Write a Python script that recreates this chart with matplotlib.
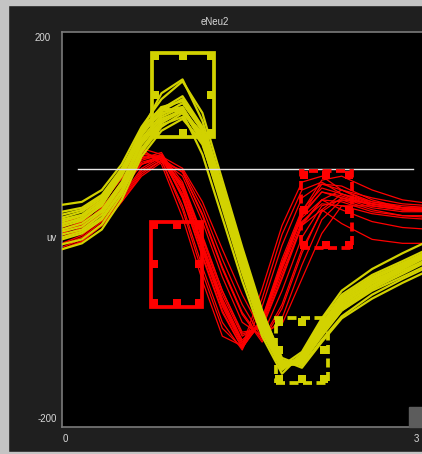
import numpy as np
import matplotlib
matplotlib.use('Agg')
import matplotlib.pyplot as plt
from matplotlib.patches import Rectangle
from matplotlib.transforms import ScaledTranslation

# sample times (ms) shared by all waveforms
t_ms = [0, 0.17, 0.34, 0.51, 0.68, 0.85, 1.03, 1.2, 1.37, 1.54, 1.71, 1.88,
        2.05, 2.22, 2.39, 2.65, 2.91, 3.16]

# yellow unit waveforms (uV)
yellow_waves = [
    [10, 15, 30, 60, 100, 124, 130, 100, 40, -25, -88, -135, -135, -108, -82, -60, -45, -30],
    [-8, -2, 12, 40, 82, 108, 120, 90, 28, -38, -98, -140, -128, -95, -70, -50, -35, -22],
    [18, 22, 35, 62, 98, 118, 122, 88, 22, -44, -104, -142, -126, -92, -66, -46, -32, -18],
    [-15, -10, 5, 35, 78, 104, 118, 98, 42, -22, -84, -130, -138, -112, -88, -66, -50, -36],
    [5, 12, 28, 56, 95, 122, 135, 104, 44, -24, -86, -134, -134, -104, -78, -57, -40, -24],
    [-2, 3, 18, 45, 88, 114, 124, 92, 30, -36, -96, -140, -130, -98, -72, -52, -38, -24],
    [12, 18, 32, 58, 96, 120, 132, 102, 40, -28, -90, -136, -136, -106, -80, -60, -44, -28],
    [-10, -4, 10, 38, 80, 106, 114, 86, 26, -40, -100, -142, -128, -96, -68, -48, -34, -20],
    [25, 28, 40, 66, 104, 132, 150, 118, 50, -18, -82, -132, -140, -114, -90, -70, -54, -40],
    [0, 6, 20, 48, 90, 112, 120, 94, 34, -32, -94, -138, -132, -100, -74, -54, -38, -22],
    [-20, -14, 0, 30, 74, 100, 112, 88, 30, -34, -96, -138, -124, -90, -62, -40, -24, -10],
    [8, 14, 26, 54, 92, 116, 128, 100, 38, -30, -92, -138, -136, -106, -82, -62, -48, -34],
    [15, 20, 34, 60, 98, 120, 124, 90, 28, -38, -98, -140, -130, -100, -74, -54, -38, -24],
    [-5, 0, 15, 44, 86, 110, 122, 96, 36, -30, -92, -136, -134, -104, -78, -58, -42, -28],
    [6, 10, 24, 56, 100, 138, 152, 110, 44, -24, -88, -134, -132, -102, -76, -55, -40, -25],
    [3, 9, 25, 58, 102, 124, 118, 76, 12, -52, -108, -146, -126, -96, -70, -50, -36, -22],
]

# red unit waveforms (uV)
red_waves = [
    [-2, 8, 30, 58, 80, 70, 20, -44, -100, -120, -70, -5, 40, 48, 36, 24, 20, 20],
    [4, 12, 34, 62, 82, 66, 12, -52, -108, -118, -60, 4, 48, 54, 40, 26, 22, 22],
    [-8, 0, 18, 44, 70, 76, 40, -16, -72, -114, -94, -38, 14, 38, 32, 22, 18, 18],
    [-15, -8, 8, 32, 60, 72, 58, 14, -40, -86, -114, -80, -24, 20, 36, 28, 22, 20],
    [-20, -12, 4, 28, 54, 68, 60, 22, -30, -76, -110, -90, -36, 10, 30, 26, 20, 18],
    [0, 8, 26, 52, 76, 74, 32, -26, -82, -120, -90, -30, 20, 42, 36, 26, 22, 20],
    [-3, 5, 22, 46, 72, 78, 42, -14, -70, -112, -92, -38, 14, 46, 44, 30, 22, 18],
    [-10, -2, 16, 40, 66, 76, 48, -6, -62, -106, -98, -48, 6, 30, 28, 18, 14, 14],
    [2, 10, 30, 56, 78, 70, 24, -38, -94, -122, -78, -16, 32, 46, 40, 28, 24, 22],
    [-18, -10, 6, 30, 58, 70, 58, 16, -38, -84, -112, -76, -20, 18, 32, 26, 22, 20],
    [-6, 2, 20, 44, 68, 74, 40, -18, -74, -114, -92, -36, 12, 30, 20, 8, 2, 0],
    [6, 14, 34, 60, 82, 76, 32, -28, -84, -120, -92, -34, 18, 50, 54, 40, 30, 26],
    [-4, 4, 22, 48, 72, 74, 36, -20, -76, -116, -90, -34, 16, 38, 34, 24, 20, 20],
    [-20, -12, 4, 28, 56, 70, 54, 8, -48, -94, -108, -62, -8, 24, 30, 20, 14, 12],
    [-2, 6, 26, 52, 74, 72, 34, -22, -78, -118, -94, -40, 8, 26, 24, 16, 12, 10],
    [-10, -2, 18, 42, 66, 72, 46, -8, -62, -104, -100, -50, 4, 30, 40, 32, 26, 24],
    [-8, 0, 16, 40, 66, 74, 44, -10, -66, -108, -96, -44, 4, 20, 6, -10, -14, -14],
    [-14, -6, 10, 34, 62, 74, 62, 28, -20, -66, -104, -96, -50, -4, 24, 24, 20, 18],
]

threshold_uv = 61
threshold_span = [0.14, 3.0]

# sorting windows: (t0, t1, v_low, v_high, colour, dashed)
windows = [
    (0.77, 1.30, 94, 179, '#d2d200', False),
    (0.76, 1.20, -78, 8, '#ff0000', False),
    (2.04, 2.48, -19, 59, '#ff0000', True),
    (1.83, 2.27, -155, -90, '#d2d200', True),
]

W, H = 422, 454
fig = plt.figure(figsize=(W / 100, H / 100), dpi=100, facecolor='#1f1f1f')

# light window border strips
fig.patches.append(Rectangle((0, 0), 8 / W, 1, transform=fig.transFigure,
                             color='#c4c4c4', zorder=0))
fig.patches.append(Rectangle((0, 1 - 5 / H), 1, 5 / H, transform=fig.transFigure,
                             color='#c4c4c4', zorder=0))
fig.patches.append(Rectangle((0, 0), 1, 2 / H, transform=fig.transFigure,
                             color='#c4c4c4', zorder=0))

ax = fig.add_axes([62 / W, 27 / H, 378 / W, 395 / H])
ax.set_facecolor('black')
ax.set_xlim(0, 3.23)
ax.set_ylim(-200, 200)
ax.set_xticks([])
ax.set_yticks([])
for s in ['left', 'top', 'bottom']:
    ax.spines[s].set_color('#7a7a7a')
    ax.spines[s].set_linewidth(1.2)
ax.spines['right'].set_visible(False)

n = max(len(yellow_waves), len(red_waves))
for i in range(n):
    if i < len(red_waves):
        ax.plot(t_ms, red_waves[i], color='#ff0000', lw=0.9, zorder=2)
    if i < len(yellow_waves):
        ax.plot(t_ms, yellow_waves[i], color='#d2d200', lw=1.6, zorder=3)

ax.plot(threshold_span, [threshold_uv, threshold_uv], color='#e6e6e6', lw=1.0, zorder=4)

for (t0, t1, v0, v1, c, dashed) in windows:
    ls = (0, (2.4, 1.2)) if dashed else '-'
    ax.add_patch(Rectangle((t0, v0), t1 - t0, v1 - v0, fill=False, ec=c,
                           lw=2.7, ls=ls, zorder=5))
    tm = (t0 + t1) / 2
    vm = (v0 + v1) / 2
    handles = [(t0, v1, 1, -1), (tm, v1, 0, -1), (t1, v1, -1, -1),
               (t0, vm, 1, 0), (t1, vm, -1, 0),
               (t0, v0, 1, 1), (tm, v0, 0, 1), (t1, v0, -1, 1)]
    for (hx, hy, dx, dy) in handles:
        off = ScaledTranslation(dx * 2.4 / 72, dy * 2.4 / 72, fig.dpi_scale_trans)
        ax.plot([hx], [hy], marker='s', ms=5.5, color=c, mew=0,
                transform=ax.transData + off, zorder=6)

txt = dict(color='#d8d8d8', fontsize=7, family='Liberation Sans')
fig.text(215 / W, 1 - 22 / H, 'eNeu2', ha='center', va='center', **txt)
fig.text(51 / W, 1 - 38 / H, '200', ha='right', va='center', **txt)
fig.text(57 / W, 1 - 238 / H, 'uv', ha='right', va='center', **txt)
fig.text(57 / W, 1 - 419 / H, '-200', ha='right', va='center', **txt)
fig.text(65 / W, 1 - 439 / H, '0', ha='center', va='center', **txt)
fig.text(416 / W, 1 - 439 / H, '3', ha='center', va='center', **txt)

# small scroll button in the corner
fig.patches.append(Rectangle((409 / W, 27 / H), 13 / W, 20 / H, transform=fig.transFigure,
                             color='#5c5c5c', zorder=10))

fig.savefig('out.png', dpi=100, facecolor=fig.get_facecolor())
